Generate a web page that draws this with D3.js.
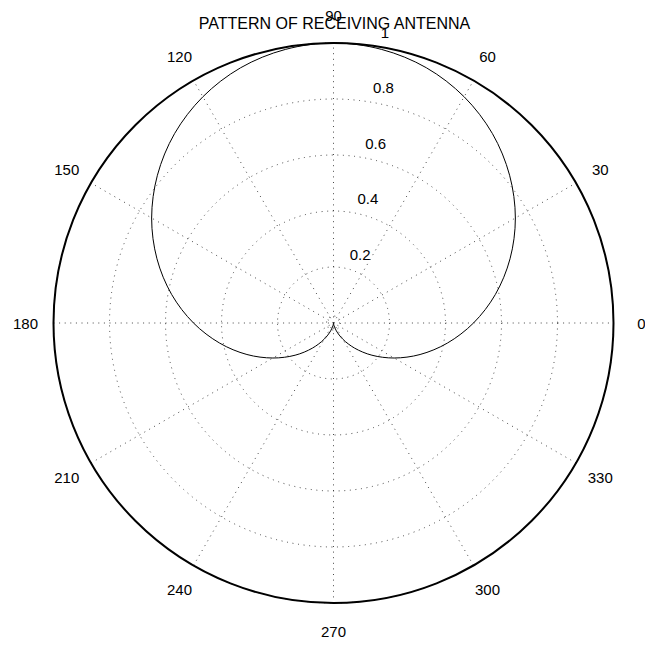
<!DOCTYPE html>
<html><head><meta charset="utf-8">
<script src="https://cdn.jsdelivr.net/npm/d3@7"></script>
<style>body{margin:0;background:#fff}svg{display:block}text{font-family:"Liberation Sans",Arial,sans-serif;fill:#000}</style>
</head><body><svg id="c" width="645" height="647"></svg>
<script>
const title = "PATTERN OF RECEIVING ANTENNA";
const ringValues = [0.2, 0.4, 0.6, 0.8, 1];
const spokeAngles = [0, 30, 60, 90, 120, 150];
const angleLabels = [0, 30, 60, 90, 120, 150, 180, 210, 240, 270, 300, 330];
// pattern samples every 10 degrees (0..350)
const patternAngles = d3.range(0, 360, 10);
const patternR = [0.500,0.587,0.671,0.750,0.821,0.883,0.933,0.970,0.992,1.000,0.992,0.970,0.933,0.883,0.821,0.750,0.671,0.587,
                  0.500,0.413,0.329,0.250,0.179,0.117,0.067,0.030,0.008,0.000,0.008,0.030,0.067,0.117,0.179,0.250,0.329,0.413];

const svg = d3.select("#c");
const cx = 333.5, cy = 323, R = 280;
const r = d3.scaleLinear().domain([0, 1]).range([0, R]);
const g = svg.append("g").attr("transform", `translate(${cx},${cy})`);
const rad = d => d * Math.PI / 180;
const dots = {stroke: "#333", "stroke-width": 0.9, "stroke-dasharray": "1,4.6"};
function sty(sel, o) { for (const k in o) sel.attr(k, o[k]); return sel; }

// dotted rings
sty(g.selectAll("circle.ring").data([0.025].concat(ringValues)).join("circle")
  .attr("class", "ring").attr("r", d => r(d)).attr("fill", "none"), dots);
// dotted spokes
sty(g.selectAll("line.spoke").data(spokeAngles).join("line")
  .attr("x1", d => -r(1) * Math.cos(rad(d))).attr("y1", d => r(1) * Math.sin(rad(d)))
  .attr("x2", d => r(1) * Math.cos(rad(d))).attr("y2", d => -r(1) * Math.sin(rad(d))), dots);
// outer solid circle
g.append("circle").attr("r", r(1)).attr("fill", "none").attr("stroke", "#000").attr("stroke-width", 2);

// ring labels at 82 degrees
const a82 = rad(82);
g.selectAll("text.rl").data(ringValues).join("text")
  .attr("x", d => r(d + 0.01) * Math.cos(a82) + 8)
  .attr("y", d => -r(d + 0.01) * Math.sin(a82) - 5)
  .attr("font-size", 15).text(d => String(d));

// angle labels
g.selectAll("text.al").data(angleLabels).join("text")
  .attr("x", d => r(1.1) * Math.cos(rad(d)))
  .attr("y", d => -r(1.1) * Math.sin(rad(d)))
  .attr("text-anchor", "middle").attr("dominant-baseline", "central")
  .attr("font-size", 15).text(d => String(d));

// pattern curve
const pts = patternAngles.map((a, i) => [rad(90 - a), r(patternR[i])]);
const line = d3.lineRadial().angle(d => d[0]).radius(d => d[1]).curve(d3.curveCatmullRomClosed.alpha(0.5));
g.append("path").attr("d", line(pts)).attr("fill", "none").attr("stroke", "#000").attr("stroke-width", 1);

svg.append("text").attr("x", 334.5).attr("y", 29).attr("text-anchor", "middle")
  .attr("font-size", 16).text(title);
</script></body></html>
